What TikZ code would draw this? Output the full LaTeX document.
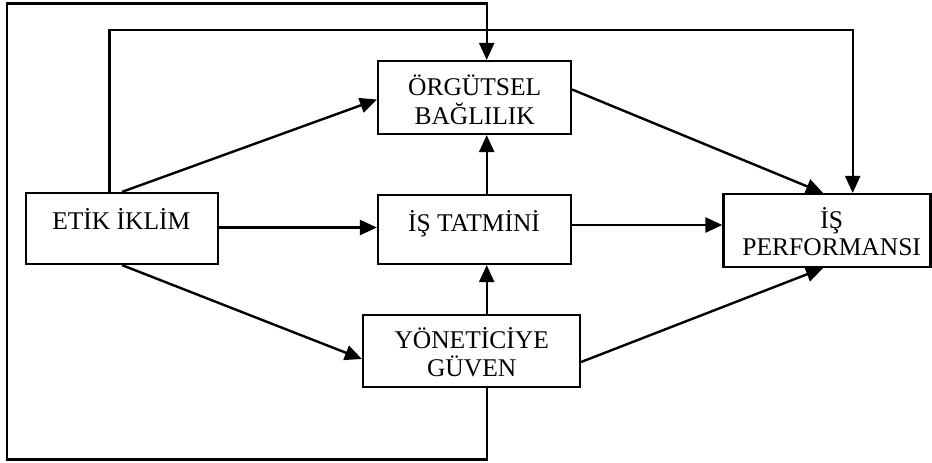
\documentclass[tikz,border=0pt]{standalone}
\usepackage{fontspec}
\setmainfont{Liberation Serif}
\usetikzlibrary{arrows.meta,calc}
\tikzset{
  box/.style={draw, line width=2.2pt, inner sep=0pt, fill=none},
  txt/.style={anchor=base, inner sep=0pt, font=\fontsize{25.5}{27.5}\selectfont},
  arr/.style={line width=2.4pt, -{Triangle[length=17pt,width=15pt]}},
}
\begin{document}
\begin{tikzpicture}[x=1pt,y=-1pt]
\fill[white] (0,0) rectangle (932,463);
\useasboundingbox (0,0) rectangle (932,463);
% boxes
\node[box, minimum width=193pt, minimum height=73pt] (org) at (474.5,97.5) {};
\node[box, minimum width=193pt, minimum height=69pt] (tat) at (474.5,229.5) {};
\node[box, minimum width=217pt, minimum height=72pt] (yon) at (471.5,351) {};
\node[box, minimum width=192pt, minimum height=71pt] (etik) at (122,228.5) {};
\node[box, minimum width=207pt, minimum height=73pt] (perf) at (827,230.5) {};
% texts
\node[txt] (torg) at (474.7,95) {\begin{tabular}[t]{@{}c@{}}ÖRGÜTSEL\\BAĞLILIK\end{tabular}};
\node[txt] (ttat) at (474,231) {İŞ TATMİNİ};
\node[txt] (tyon) at (471.7,348) {\begin{tabular}[t]{@{}c@{}}YÖNETİCİYE\\GÜVEN\end{tabular}};
\node[txt] (tetik) at (121.3,229) {ETİK İKLİM};
\node[txt] (tperf) at (831.7,228) {\begin{tabular}[t]{@{}c@{}}İŞ\\PERFORMANSI\end{tabular}};
% helper coordinates
\coordinate (vx) at (486.7,0);
\coordinate (bl) at (6.7,459.3);
\coordinate (tl) at (6.7,3.5);
\coordinate (t2) at (109.3,30);
\coordinate (t2r) at (852.7,30);
% connectors
\draw[arr] (etik.north) -- ([yshift=-2pt]org.west);
\draw[arr] ([yshift=1pt]etik.east) -- ([yshift=1pt]etik.east -| tat.west);
\draw[arr] (etik.south) -- ([yshift=-8pt]yon.west);
\draw[arr] (vx |- tat.north) -- (vx |- org.south);
\draw[arr] (vx |- yon.north) -- (vx |- tat.south);
\draw[arr] ([yshift=8pt]org.east) -- ([xshift=-4pt]perf.north);
\draw[arr] ([yshift=4.5pt]tat.east) -- ([yshift=4.5pt]tat.east -| perf.west);
\draw[arr] ([yshift=-11pt]yon.east) -- ([xshift=-4pt]perf.south);
\draw[arr] (vx |- yon.south) |- (bl) -- (tl) -| (vx |- org.north);
\draw[arr] (t2 |- etik.north) -- (t2) -- (t2r) -- (t2r |- perf.north);
\end{tikzpicture}
\end{document}
